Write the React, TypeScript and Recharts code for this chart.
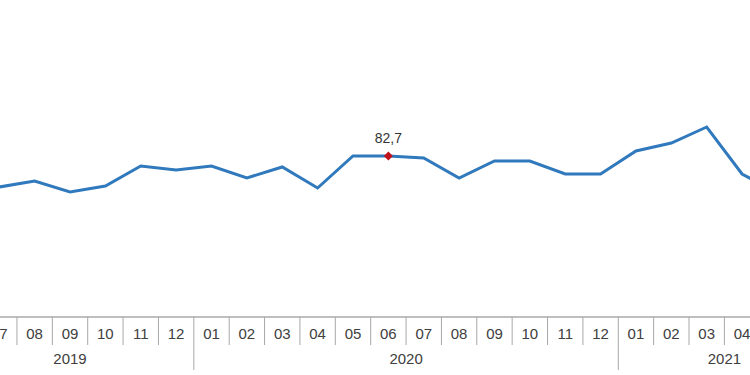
import React from "react";
import { LineChart, Line, XAxis, YAxis } from "recharts";

const months = ["06","07","08","09","10","11","12","01","02","03","04","05","06","07","08","09","10","11","12","01","02","03","04","05","06"];
const years = ["2019","2019","2019","2019","2019","2019","2019","2020","2020","2020","2020","2020","2020","2020","2020","2020","2020","2020","2020","2021","2021","2021","2021","2021","2021"];
const values = [79.4,79.6,80.2,79.1,79.7,81.7,81.3,81.7,80.5,81.6,79.5,82.7,82.7,82.5,80.5,82.2,82.2,80.9,80.9,83.2,84.0,85.6,80.9,79.0,80.2];
const highlightIndex = 12;
const highlightLabel = "82,7";

const data = values.map((v, i) => ({ idx: i, month: months[i], year: years[i], value: v }));
const tickIdx = values.map((_, i) => i);

const LINE_COLOR = "#3079bd";
const GRID = "#a8a8a8";
const TEXT = "#404040";

function yearSpan(i: number) {
  const y = years[i];
  let a = i, b = i;
  while (a > 0 && years[a - 1] === y) a--;
  while (b < years.length - 1 && years[b + 1] === y) b++;
  return { a, b };
}

const Tick = (props: any) => {
  const { x, y, payload } = props;
  const i = payload.value as number;
  const step = props.step as number;
  const half = step / 2;
  const isYearEnd = i < years.length - 1 && years[i + 1] !== years[i];
  const { a, b } = yearSpan(i);
  const mid = (a + b) / 2;
  const showYear = Math.floor(mid) === i;
  const yearX = x + (mid - i) * step;
  return (
    <g>
      <text x={x} y={y + 18} textAnchor="middle" dominantBaseline="middle" fill={TEXT} fontSize={15} fontFamily="Liberation Sans, Arial, sans-serif">
        {months[i]}
      </text>
      <line x1={x + half} x2={x + half} y1={y} y2={y + (isYearEnd ? 53 : 28)} stroke={GRID} strokeWidth={1} />
      {showYear && (
        <text x={yearX} y={y + 43} textAnchor="middle" dominantBaseline="middle" fill={TEXT} fontSize={15} fontFamily="Liberation Sans, Arial, sans-serif">
          {years[i]}
        </text>
      )}
    </g>
  );
};

const Dot = (props: any) => {
  const { cx, cy, index } = props;
  if (index !== highlightIndex) return <g key={index} />;
  const r = 4.5;
  return (
    <g key={index}>
      <polygon points={`${cx},${cy - r} ${cx + r},${cy} ${cx},${cy + r} ${cx - r},${cy}`} fill="#c0121c" />
      <text x={cx} y={cy - 17} textAnchor="middle" dominantBaseline="middle" fill="#333" fontSize={14} fontFamily="Liberation Sans, Arial, sans-serif">
        {highlightLabel}
      </text>
    </g>
  );
};

export default function App() {
  const chartW = 938.2;
  const mLeft = 16.2;
  const mRight = 20;
  const step = 35.4;
  return (
    <div style={{ position: "fixed", left: 0, top: 0, width: 750, height: 375, overflow: "hidden", background: "#fff" }}>
      <div style={{ position: "absolute", left: -70, top: 0 }}>
        <LineChart width={chartW} height={375} data={data} margin={{ top: 7, right: mRight, bottom: 0, left: mLeft }}>
          <XAxis
            dataKey="idx"
            type="number"
            domain={[-0.5, values.length - 0.5]}
            ticks={tickIdx}
            interval={0}
            height={58}
            tickSize={0}
            tickMargin={0}
            tickLine={false}
            axisLine={{ stroke: GRID, strokeWidth: 1.5 }}
            tick={<Tick step={step} />}
            allowDecimals={false}
            allowDataOverflow
          />
          <YAxis hide domain={[66.6, 97.6]} type="number" allowDataOverflow />
          <Line
            type="linear"
            dataKey="value"
            stroke={LINE_COLOR}
            strokeWidth={3}
            dot={<Dot />}
            activeDot={false}
            isAnimationActive={false}
          />
        </LineChart>
      </div>
    </div>
  );
}
